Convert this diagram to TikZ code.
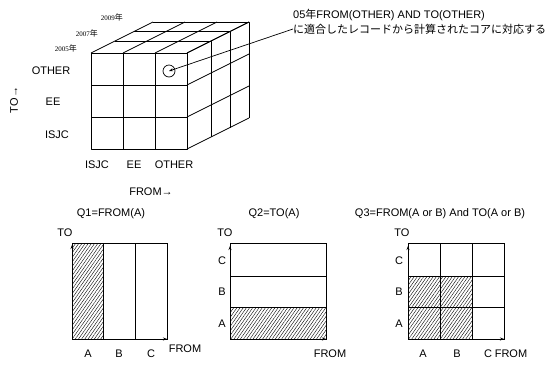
\documentclass[tikz,border=0pt]{standalone}
\usepackage{fontspec}
\setmainfont{Liberation Sans}
\newfontfamily\jpfont{Noto Sans CJK JP}
\newfontfamily\yearfont{Liberation Serif}
\usetikzlibrary{arrows.meta,patterns.meta}
\begin{document}
\begin{tikzpicture}[
                x=1pt, y=-1pt,
                lbl/.style={
                    inner sep=0pt,
                    font=\fontsize{11}{12}\selectfont
                },
                yearlbl/.style={
                    inner sep=0pt,
                    anchor=east,
                    font=\yearfont\fontsize{7}{8}\selectfont
                },
                note/.style={
                    inner sep=0pt,
                    anchor=west,
                    font=\fontsize{11}{12}\selectfont
                },
                cubeline/.style={
                    line width=0.8pt,
                    line join=round
                },
                panel/.style={
                    line width=0.8pt
                },
                hatch/.style={
                    pattern={Lines[angle=55,distance=2.6pt,line width=0.4pt]}
                },
                axis/.style={
                    -{Stealth[length=4pt,width=3pt]},
                    line width=0.8pt
                },
                arrow/.style={
                    -{Stealth[length=4pt,width=3pt]},
                    line width=0.7pt
                }
            ]

                \useasboundingbox (0,0) rectangle (556,365);

                % cube
                \draw[cubeline] (91,53) rectangle (187,149);
                \draw[cubeline] (123,53) -- (123,149) (155,53) -- (155,149);
                \draw[cubeline] (91,85) -- (187,85) (91,117) -- (187,117);
                \foreach \dx/\dy in {0/0,24/12,43/21.5,62/31} {
                    \draw[cubeline] (91+\dx,53-\dy) -- (187+\dx,53-\dy) -- (187+\dx,149-\dy);
                }
                \foreach \i in {0,32,64,96} {
                    \draw[cubeline] (91+\i,53) -- ++(62,-31);
                    \draw[cubeline] (187,53+\i) -- ++(62,-31);
                }

                \node[yearlbl] (y2005) at (77,48) {2005\jpfont\fontsize{8}{8}\selectfont 年};
                \node[yearlbl] (y2007) at (98,33) {2007\jpfont\fontsize{8}{8}\selectfont 年};
                \node[yearlbl] (y2009) at (123,17) {2009\jpfont\fontsize{8}{8}\selectfont 年};

                \node[lbl] (toother) at (51,71)  {OTHER};
                \node[lbl] (toee)    at (53,102) {EE};
                \node[lbl] (toisjc)  at (57,135) {ISJC};
                \node[lbl, rotate=90] (toaxis) at (14,100) {TO→};

                \node[lbl] (fromisjc)  at (97,165)  {ISJC};
                \node[lbl] (fromee)    at (134,165) {EE};
                \node[lbl] (fromother) at (174,165) {OTHER};
                \node[lbl] (fromaxis)  at (151,192) {FROM→};

                \node[circle, draw, line width=0.7pt, minimum size=12pt, inner sep=0pt] (cell) at (169,71) {};
                \node[note] (note1) at (293,15) {05{\jpfont 年}FROM(OTHER) AND TO(OTHER)};
                \node[note] (note2) at (293,29) {\jpfont に適合したレコードから計算されたコアに対応する};
                \draw[arrow] (note2.west) -- (cell.center);

                % Q1
                \node[lbl] (q1) at (111,214) {Q1=FROM(A)};
                \fill[hatch] (72,243) rectangle (103,339);
                \draw[panel] (72,243) rectangle (167,339);
                \draw[panel] (103,243) -- (103,339) (135,243) -- (135,339);
                \coordinate (o1) at (72,339);
                \draw[axis] (o1) -- (72,245);
                \draw[axis] (o1) -- (167,339);
                \node[lbl] (to1) at (65,233) {TO};
                \node[lbl] (a1) at (88,354) {A};
                \node[lbl] (b1) at (119,354) {B};
                \node[lbl] (c1) at (151,354) {C};
                \node[lbl] (from1) at (185,349) {FROM};

                % Q2
                \node[lbl] (q2) at (274,214) {Q2=TO(A)};
                \fill[hatch] (230,307) rectangle (326,339);
                \draw[panel] (230,243) rectangle (326,339);
                \draw[panel] (230,276) -- (326,276) (230,307) -- (326,307);
                \coordinate (o2) at (230,339);
                \draw[axis] (o2) -- (230,246);
                \draw[axis] (o2) -- (326,339);
                \node[lbl] (to2) at (225,233) {TO};
                \node[lbl] (c2) at (222,261) {C};
                \node[lbl] (b2) at (222,292) {B};
                \node[lbl] (a2) at (222,324) {A};
                \node[lbl] (from2) at (330,354) {FROM};

                % Q3
                \node[lbl] (q3) at (440,214) {Q3=FROM(A or B) And TO(A or B)};
                \fill[hatch] (408,276) rectangle (472,339);
                \draw[panel] (408,243) rectangle (504,339);
                \draw[panel] (440,243) -- (440,339) (472,243) -- (472,339);
                \draw[panel] (408,276) -- (504,276) (408,307) -- (504,307);
                \coordinate (o3) at (408,339);
                \draw[axis] (o3) -- (408,246);
                \draw[axis] (o3) -- (504,339);
                \node[lbl] (to3) at (402,233) {TO};
                \node[lbl] (c3) at (399,261) {C};
                \node[lbl] (b3) at (399,292) {B};
                \node[lbl] (a3) at (399,324) {A};
                \node[lbl] (a3x) at (423,354) {A};
                \node[lbl] (b3x) at (457,354) {B};
                \node[lbl] (c3x) at (488,354) {C};
                \node[lbl] (from3) at (511,354) {FROM};
        \end{tikzpicture}
\end{document}
